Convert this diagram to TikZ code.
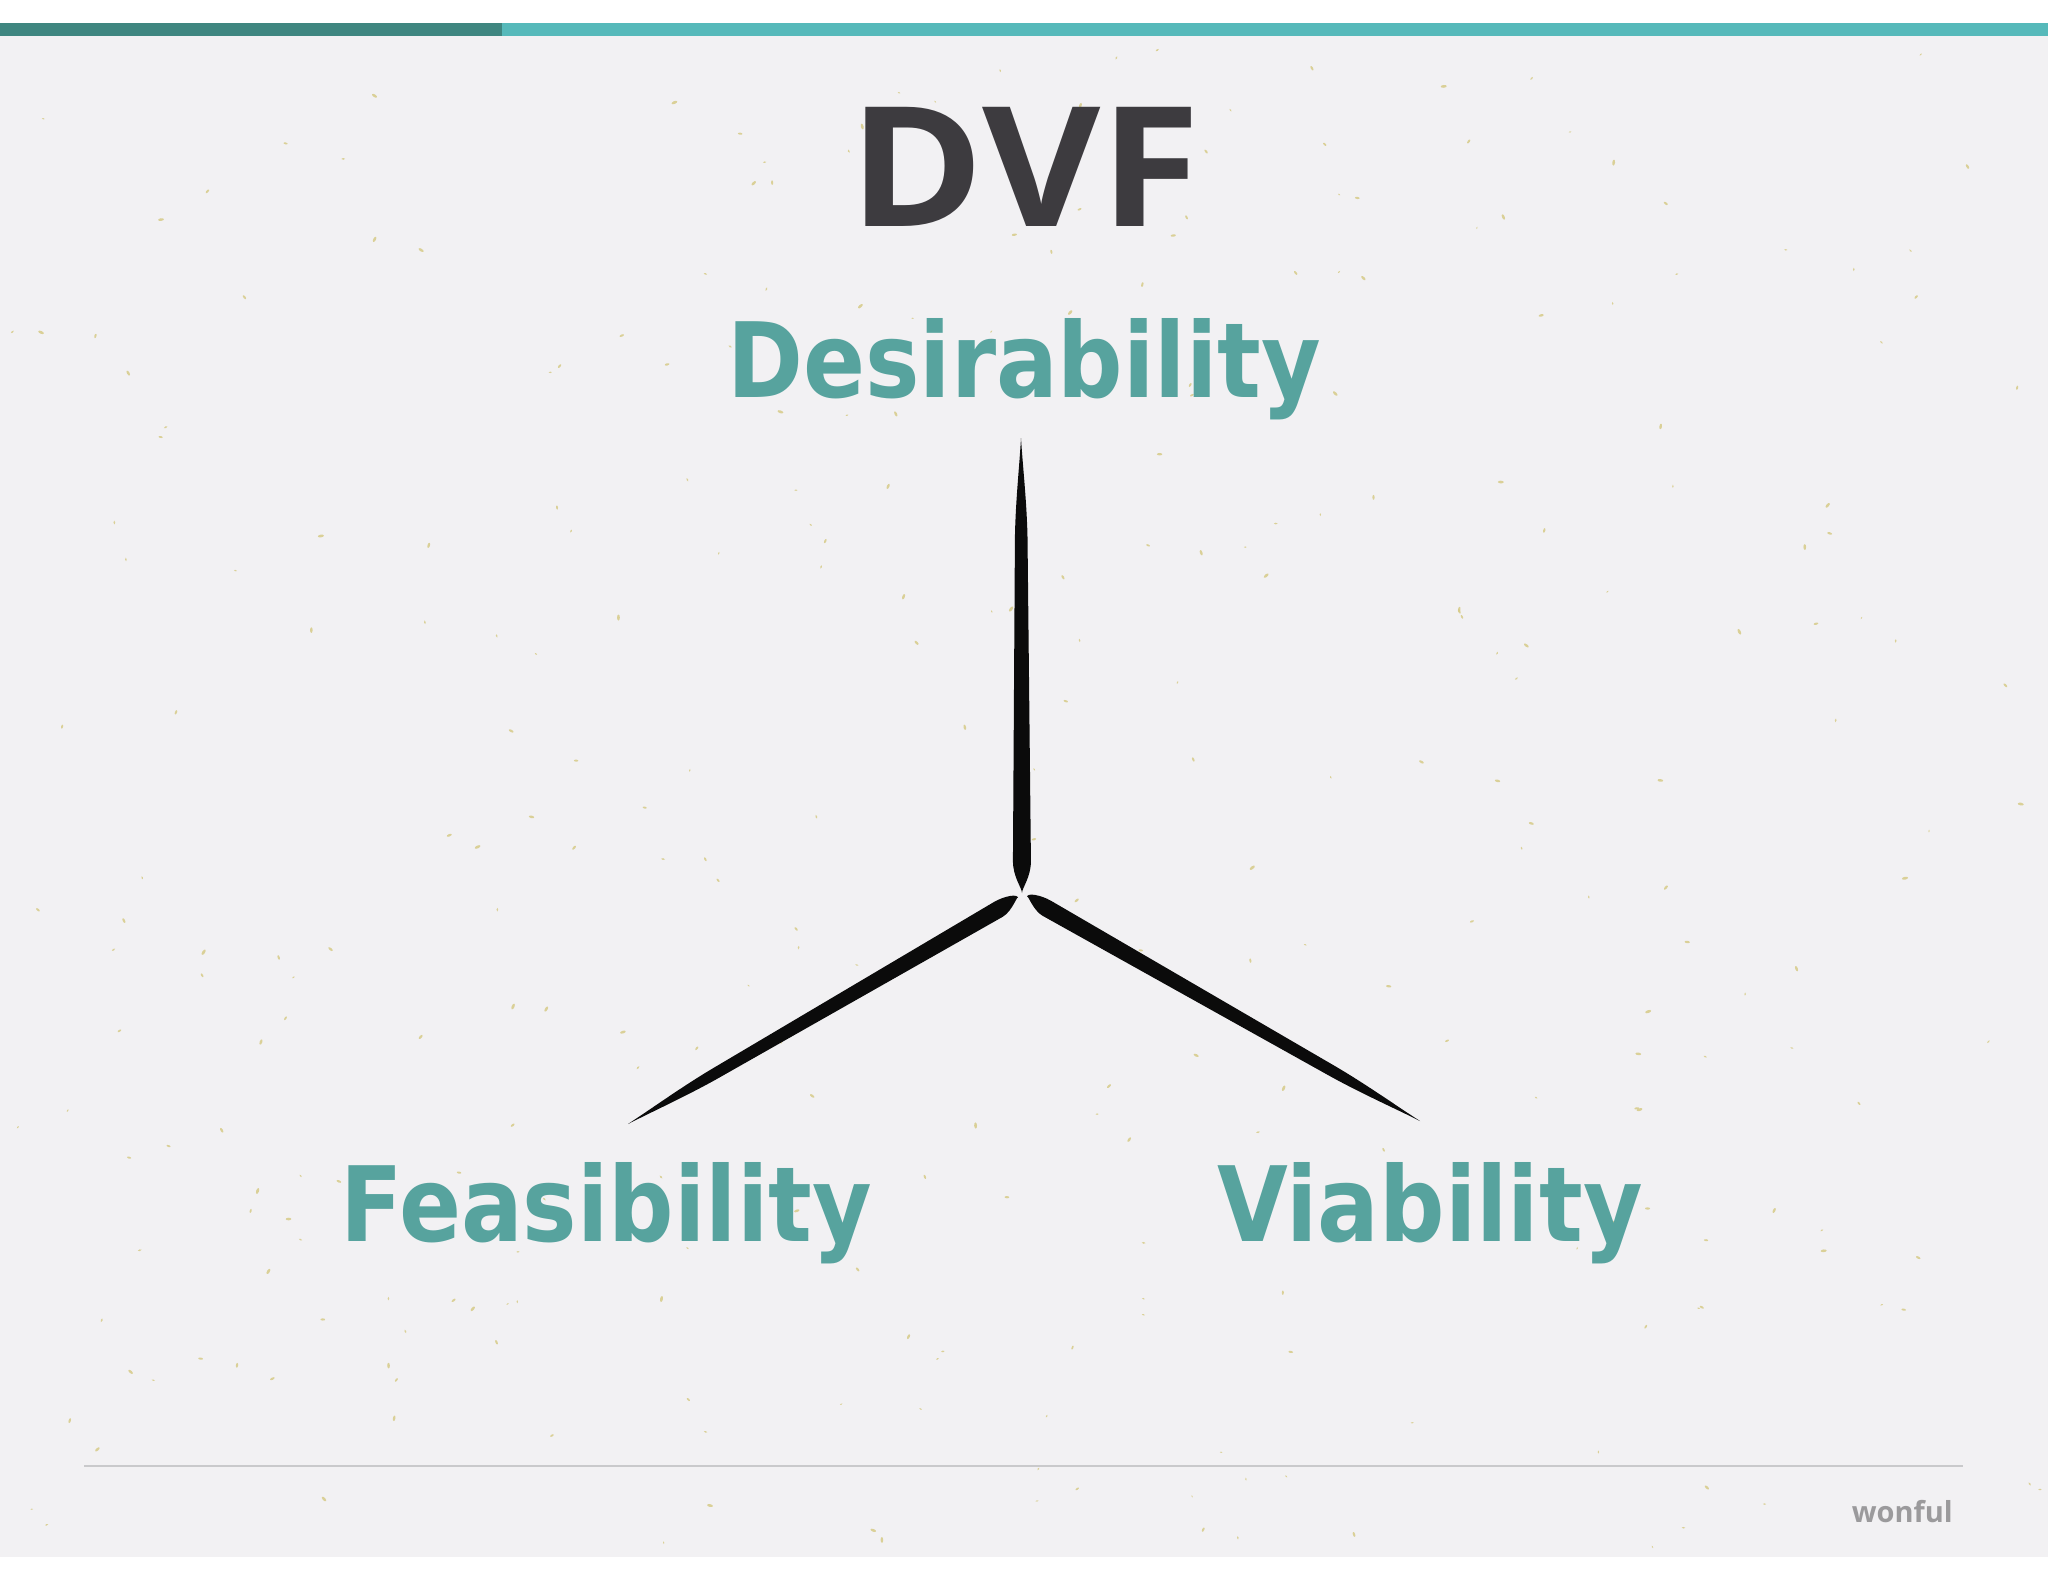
\documentclass[tikz,border=0pt]{standalone}
\usepackage{fontspec}
\usetikzlibrary{calc}
\newfontfamily\titlefont{Open Sans}[FakeStretch=1.09]
\newfontfamily\markfont{Open Sans}
\newfontfamily\labelfont{DejaVu Sans}[FakeStretch=0.88]
\definecolor{paper}{HTML}{F2F1F3}
\definecolor{bardark}{HTML}{3F8680}
\definecolor{barlight}{HTML}{56B9BA}
\definecolor{titlegray}{HTML}{3D3B3F}
\definecolor{teal}{HTML}{57A39E}
\definecolor{rulegray}{HTML}{C9C9CB}
\definecolor{markgray}{HTML}{9B9A9C}
\definecolor{ink}{HTML}{0B0B0B}
\definecolor{speck}{HTML}{D6CB88}
\tikzset{
  titletext/.style={inner sep=0pt, anchor=base west, text=titlegray, font=\titlefont\bfseries\fontsize{167}{167}\selectfont},
  dimtext/.style={inner sep=0pt, anchor=base west, text=teal, font=\labelfont\bfseries\fontsize{104}{104}\selectfont},
  marktext/.style={inner sep=0pt, anchor=base east, text=markgray, font=\markfont\bfseries\fontsize{29}{29}\selectfont},
}
% brush stroke: #1 pointed tip, #2 rounded end, #3 half width near the tip side, #4 half width near the rounded end, #5 where the rounded end starts
\newcommand\brushstroke[5]{%
  \pgfmathsetmacro\bwa{0.25*#3}%
  \pgfmathsetmacro\bwb{0.9*#3}%
  \pgfmathsetmacro\bwc{0.55*#4}%
  \pgfmathsetmacro\bta{(1+#5)/2}%
  \fill[ink] (#1)
    .. controls ($(#1)!0.06!(#2)!\bwa pt!90:(#2)$) and ($(#1)!0.14!(#2)!\bwb pt!90:(#2)$) .. ($(#1)!0.22!(#2)!#3pt!90:(#2)$)
    -- ($(#1)!#5!(#2)!#4pt!90:(#2)$)
    .. controls ($(#1)!\bta!(#2)!#4pt!90:(#2)$) and ($(#1)!1!(#2)!\bwc pt!90:(#2)$) .. (#2)
    .. controls ($(#1)!1!(#2)!\bwc pt!-90:(#2)$) and ($(#1)!\bta!(#2)!#4pt!-90:(#2)$) .. ($(#1)!#5!(#2)!#4pt!-90:(#2)$)
    -- ($(#1)!0.22!(#2)!#3pt!-90:(#2)$)
    .. controls ($(#1)!0.14!(#2)!\bwb pt!-90:(#2)$) and ($(#1)!0.06!(#2)!\bwa pt!-90:(#2)$) .. (#1) -- cycle;}
\begin{document}
\begin{tikzpicture}[x=1pt,y=-1pt]
\useasboundingbox (0,0) rectangle (2048,1582);
\fill[white] (0,0) rectangle (2048,1582);
\fill[paper] (0,36) rectangle (2048,1557);
% speckles
\pgfmathsetseed{7}
\foreach \i in {1,...,320}{
  \pgfmathsetmacro\sx{rnd*2040+4}
  \pgfmathsetmacro\sy{rnd*1505+45}
  \pgfmathsetmacro\sr{rnd*1.4+1.0}
  \pgfmathsetmacro\sa{rnd*180}
  \fill[speck, opacity=0.85, rotate around={\sa:(\sx,\sy)}] (\sx,\sy) ellipse ({\sr*0.6} and {\sr*1.3});
}
% top bar
\fill[barlight] (0,23) rectangle (2048,36);
\fill[bardark] (0,23) rectangle (502,36);
% title
\node[titletext] (title) at (849,226) {DVF};
% labels
\node[dimtext] (des) at (727,397) {Desirability};
\node[dimtext] (fea) at (340,1241) {Feasibility};
\node[dimtext] (via) at (1217,1241) {Viability};
% strokes
\coordinate (vtop) at (1021,438);
\coordinate (vbot) at (1022,893);
\coordinate (ljoin) at (1018,898);
\coordinate (ltip) at (628,1124);
\coordinate (rjoin) at (1027,897);
\coordinate (rtip) at (1420,1121);
\brushstroke{vtop}{vbot}{6.3}{9}{0.93}
\brushstroke{ltip}{ljoin}{5.6}{8.6}{0.95}
\brushstroke{rtip}{rjoin}{5.6}{8.6}{0.95}
% footer
\draw[rulegray, line width=1.8pt] (84,1466) coordinate (rl) -- (1963,1466) coordinate (rr);
\node[marktext] (mark) at (1953,1522) {wonful};
\end{tikzpicture}
\end{document}
